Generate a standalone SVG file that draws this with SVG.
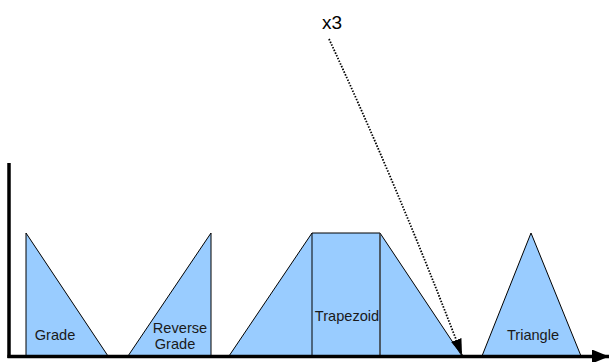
<svg xmlns="http://www.w3.org/2000/svg" width="609" height="362" viewBox="0 0 609 362">
<style>
.shape{fill:#99ccff;stroke:#000;stroke-width:1;stroke-linejoin:miter}
.lbl{font-family:"Liberation Sans",Arial,sans-serif;font-size:14.6px;fill:#1a1a1a;text-anchor:middle}
.axis{stroke:#000;stroke-width:3.5;fill:none}
</style>
<defs>
<marker id="ah" markerWidth="17" markerHeight="14" refX="17" refY="7" orient="auto" markerUnits="userSpaceOnUse">
<path d="M0,0 L17,7 L0,14 Z" fill="#000"/>
</marker>
<marker id="ad" markerWidth="16" markerHeight="11" refX="16" refY="5.5" orient="auto" markerUnits="userSpaceOnUse">
<path d="M0,0 L16,5.5 L0,11 Z" fill="#000"/>
</marker>
</defs>
<g id="grade">
<polygon class="shape" points="26,233 26,356 108,356"/>
<text class="lbl" x="55" y="340">Grade</text>
</g>
<g id="reverse-grade">
<polygon class="shape" points="211,233 211,356 128,356"/>
<text class="lbl" x="180" y="333">Reverse</text>
<text class="lbl" x="175" y="349">Grade</text>
</g>
<g id="trapezoid">
<polygon class="shape" points="229,356 312,233 380,233 462,356"/>
<line x1="312" y1="233" x2="312" y2="356" stroke="#000" stroke-width="1"/>
<line x1="380" y1="233" x2="380" y2="356" stroke="#333" stroke-width="1.5"/>
<text class="lbl" x="347" y="321">Trapezoid</text>
</g>
<g id="triangle">
<polygon class="shape" points="482,356 531,233 581,356"/>
<text class="lbl" x="533" y="340">Triangle</text>
</g>
<g id="x3-label">
<text x="332" y="29" font-family="Liberation Sans,Arial,sans-serif" font-size="19" fill="#000" text-anchor="middle">x3</text>
</g>
<g id="connectors">
<line class="axis" x1="9" y1="163" x2="9" y2="358"/>
<line class="axis" x1="7.5" y1="356.5" x2="609" y2="356.5" marker-end="url(#ah)"/>
<path d="M329,39 Q397,185 462,355" fill="none" stroke="#000" stroke-width="1.8" stroke-dasharray="1.5,1.5" marker-end="url(#ad)"/>
</g>
</svg>
